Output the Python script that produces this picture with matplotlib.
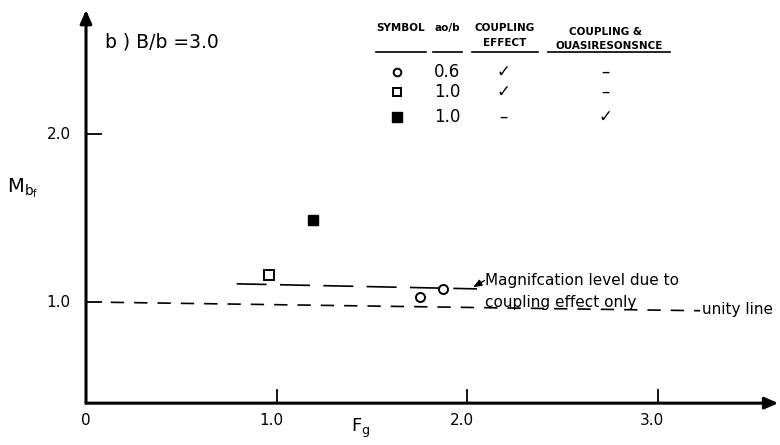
import matplotlib
matplotlib.use("Agg")
import matplotlib.pyplot as plt

# data
open_circle_fg = [1.75, 1.87]
open_circle_m = [1.03, 1.08]
open_square_fg = [0.96]
open_square_m = [1.16]
filled_square_fg = [1.19]
filled_square_m = [1.49]
mag_line_fg = [0.79, 2.05]
mag_line_m = [1.11, 1.08]
unity_line_fg = [0.13, 3.22]
unity_line_m = [1.0, 0.95]
x_ticks = [1.0, 2.0, 3.0]
x_tick_labels = ["1.0", "2.0", "3.0"]
y_ticks = [1.0, 2.0]
y_tick_labels = ["1.0", "2.0"]
table_values = ["0.6", "1.0", "1.0"]
table_coupling = ["\u2713", "\u2713", "\u2013"]
table_quasi = ["\u2013", "\u2013", "\u2713"]
x_origin = 0.0
y_origin = 0.40

plt.rcParams["font.family"] = ["DejaVu Sans"]

fig = plt.figure(figsize=(7.8, 4.45), dpi=100)
ax = fig.add_axes([0, 0, 1, 1])
ax.set_xlim(-0.451, 3.639)
ax.set_ylim(0.151, 2.799)
ax.axis("off")

# axes with arrow heads
arrow = dict(arrowstyle="-|>,head_width=0.35,head_length=0.8", color="black", lw=2.2,
             shrinkA=0, shrinkB=0)
ax.annotate("", xy=(x_origin, 2.74), xytext=(x_origin, y_origin), arrowprops=arrow)
ax.annotate("", xy=(3.63, y_origin), xytext=(x_origin, y_origin), arrowprops=arrow)

for xt, lab in zip(x_ticks, x_tick_labels):
    ax.plot([xt, xt], [y_origin, y_origin + 0.08], color="black", lw=1.3)
    ax.text(xt - 0.03, y_origin - 0.06, lab, ha="center", va="top", fontsize=11)
ax.text(x_origin, y_origin - 0.06, "0", ha="center", va="top", fontsize=11)
for yt, lab in zip(y_ticks, y_tick_labels):
    ax.plot([x_origin, x_origin + 0.08], [yt, yt], color="black", lw=1.3)
    ax.text(x_origin - 0.08, yt, lab, ha="right", va="center", fontsize=11)

ax.text(1.44, 0.25, r"F$_\mathregular{g}$", ha="center", va="center", fontsize=13)
ax.text(-0.33, 1.68, r"M$_\mathregular{b_f}$", ha="center", va="center", fontsize=14)
ax.text(0.1, 2.55, "b ) B/b =3.0", ha="left", va="center", fontsize=13.5)

# lines
ax.plot(unity_line_fg, unity_line_m, color="black", lw=1.2, dashes=(8, 6))
ax.plot(mag_line_fg, mag_line_m, color="black", lw=1.2, dashes=(18, 8))

# symbols
ax.plot(open_circle_fg, open_circle_m, "o", ms=6.5, mfc="white", mec="black", mew=1.4)
ax.plot(open_square_fg, open_square_m, "s", ms=7, mfc="white", mec="black", mew=1.4)
ax.plot(filled_square_fg, filled_square_m, "s", ms=7.5, mfc="black", mec="black")

# annotation
ax.annotate("", xy=(2.03, 1.09), xytext=(2.09, 1.13),
            arrowprops=dict(arrowstyle="-|>,head_width=0.2,head_length=0.5", color="black",
                            lw=1.0, shrinkA=0, shrinkB=0))
ax.text(2.09, 1.13, "Magnifcation level due to", ha="left", va="center", fontsize=11)
ax.text(2.09, 1.0, "coupling effect only", ha="left", va="center", fontsize=11)
ax.text(3.23, 0.955, "unity line", ha="left", va="center", fontsize=11)

# symbol table
fx = lambda px: -0.451 + px / 190.7
fy = lambda py: 2.799 - py / 168.0
hdr = dict(fontsize=7.5, fontweight="bold", va="center")
ax.text(fx(401), fy(28), "SYMBOL", ha="center", **hdr)
ax.text(fx(447), fy(28), "ao/b", ha="center", **hdr)
ax.text(fx(505), fy(28), "COUPLING", ha="center", **hdr)
ax.text(fx(505), fy(43), "EFFECT", ha="center", **hdr)
ax.text(fx(605), fy(32), "COUPLING &", ha="center", **hdr)
ax.text(fx(609), fy(46), "OUASIRESONSNCE", ha="center", **hdr)
for x0, x1 in [(376, 426), (433, 462), (472, 538), (548, 670)]:
    ax.plot([fx(x0), fx(x1)], [fy(52), fy(52)], color="black", lw=1.2)

rows_y = [72, 92, 117]
ax.plot([fx(397)], [fy(72)], "o", ms=5.5, mfc="white", mec="black", mew=1.4)
ax.plot([fx(397)], [fy(92)], "s", ms=6, mfc="white", mec="black", mew=1.4)
ax.plot([fx(397)], [fy(117)], "s", ms=6.5, mfc="black", mec="black")
for py, val, c1, c2 in zip(rows_y, table_values, table_coupling, table_quasi):
    ax.text(fx(447), fy(py), val, ha="center", va="center", fontsize=12)
    ax.text(fx(503), fy(py), c1, ha="center", va="center", fontsize=12)
    ax.text(fx(605), fy(py), c2, ha="center", va="center", fontsize=12)

fig.savefig("out.png", dpi=100, facecolor="white")
